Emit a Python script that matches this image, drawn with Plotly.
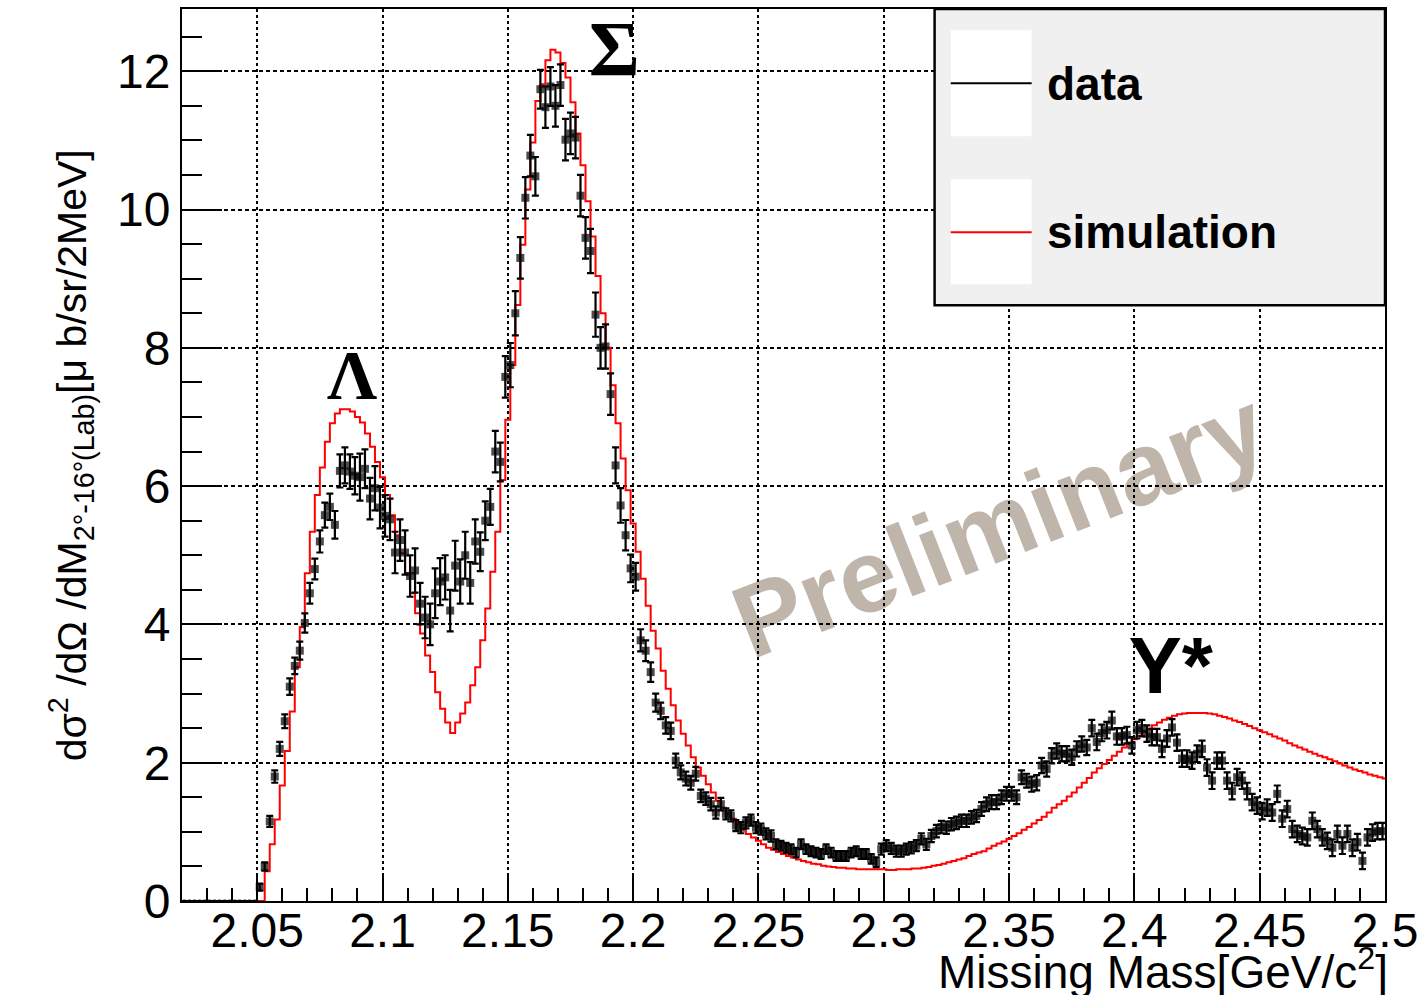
import plotly.graph_objects as go

# ---------------------------------------------------------------------------
# Missing-mass spectrum, 2 MeV bins
# ---------------------------------------------------------------------------
BIN_WIDTH = 0.002  # GeV

# measured cross section, first bin centre at 2.021 GeV
data_first_center = 2.021
data_values = [0.0] * 15 + [
    0.2, 0.5, 1.15, 1.8, 2.2, 2.6, 3.1, 3.4, 3.62, 4.02,
    4.45, 4.8, 5.2, 5.58, 5.7, 5.44, 6.22, 6.3, 6.21, 6.15,
    6.13, 6.25, 5.82, 5.97, 5.69, 5.57, 5.52, 5.04, 5.22, 5.04,
    4.7, 4.78, 4.3, 4.1, 4.0, 4.45, 4.62, 4.68, 4.2, 4.85,
    4.62, 5.0, 4.6, 5.2, 5.05, 5.5, 5.7, 6.5, 6.35, 7.58,
    7.75, 8.5, 9.3, 10.17, 10.78, 10.48, 11.74, 11.48, 11.78, 11.5,
    11.8, 11.01, 11.1, 11.04, 10.2, 9.59, 9.4, 8.48, 8.0, 8.02,
    7.33, 6.3, 5.72, 5.29, 4.81, 4.69, 3.77, 3.62, 3.31, 2.87,
    2.75, 2.54, 2.46, 2.03, 1.86, 1.77, 1.71, 1.84, 1.52, 1.48,
    1.4, 1.28, 1.4, 1.26, 1.23, 1.09, 1.06, 1.13, 1.17, 1.06,
    1.04, 0.97, 0.94, 0.82, 0.8, 0.77, 0.75, 0.7, 0.82, 0.75,
    0.72, 0.7, 0.68, 0.75, 0.7, 0.65, 0.65, 0.65, 0.7, 0.72,
    0.68, 0.68, 0.61, 0.56, 0.75, 0.8, 0.76, 0.72, 0.72, 0.75,
    0.77, 0.8, 0.9, 0.82, 0.94, 1.01, 1.07, 1.06, 1.11, 1.13,
    1.16, 1.16, 1.21, 1.23, 1.33, 1.4, 1.43, 1.43, 1.5, 1.55,
    1.55, 1.5, 1.79, 1.74, 1.69, 1.71, 1.96, 1.91, 2.1, 2.17,
    2.13, 2.13, 2.08, 2.2, 2.27, 2.22, 2.5, 2.3, 2.43, 2.47,
    2.61, 2.38, 2.38, 2.4, 2.25, 2.47, 2.5, 2.42, 2.37, 2.37,
    2.2, 2.35, 2.51, 2.29, 2.06, 2.06, 2.03, 2.13, 2.2, 1.93,
    1.74, 2.03, 2.03, 1.74, 1.59, 1.79, 1.74, 1.59, 1.43, 1.38,
    1.3, 1.35, 1.28, 1.55, 1.19, 1.33, 1.04, 0.97, 0.94, 0.92,
    1.16, 1.04, 0.92, 0.87, 0.77, 0.97, 0.8, 0.97, 0.77, 0.85,
    0.58, 0.92, 0.99, 1.01, 1.01,
]
data_errors = [0.0] * 15 + [
    0.05, 0.06, 0.08, 0.09, 0.1, 0.1, 0.12, 0.12, 0.13, 0.14,
    0.15, 0.15, 0.16, 0.18, 0.19, 0.2, 0.24, 0.26, 0.25, 0.27,
    0.34, 0.28, 0.3, 0.32, 0.3, 0.3, 0.3, 0.3, 0.3, 0.32,
    0.3, 0.32, 0.3, 0.3, 0.3, 0.36, 0.34, 0.32, 0.3, 0.36,
    0.32, 0.34, 0.3, 0.32, 0.28, 0.28, 0.26, 0.3, 0.28, 0.3,
    0.32, 0.32, 0.3, 0.3, 0.3, 0.28, 0.28, 0.3, 0.28, 0.3,
    0.3, 0.3, 0.3, 0.3, 0.3, 0.3, 0.32, 0.32, 0.3, 0.32,
    0.3, 0.26, 0.25, 0.22, 0.2, 0.2, 0.16, 0.15, 0.14, 0.13,
    0.12, 0.12, 0.12, 0.1, 0.1, 0.1, 0.1, 0.1, 0.09, 0.09,
    0.09, 0.09, 0.09, 0.08, 0.08, 0.08, 0.08, 0.08, 0.08, 0.08,
    0.08, 0.08, 0.08, 0.07, 0.07, 0.07, 0.07, 0.07, 0.07, 0.07,
    0.07, 0.07, 0.07, 0.07, 0.07, 0.07, 0.07, 0.07, 0.07, 0.07,
    0.07, 0.07, 0.07, 0.07, 0.08, 0.08, 0.08, 0.08, 0.08, 0.08,
    0.08, 0.08, 0.08, 0.08, 0.09, 0.09, 0.09, 0.09, 0.09, 0.09,
    0.09, 0.09, 0.09, 0.09, 0.1, 0.1, 0.1, 0.1, 0.1, 0.1,
    0.1, 0.1, 0.1, 0.1, 0.11, 0.11, 0.11, 0.11, 0.11, 0.11,
    0.11, 0.11, 0.11, 0.11, 0.11, 0.11, 0.12, 0.12, 0.12, 0.12,
    0.13, 0.12, 0.12, 0.12, 0.12, 0.12, 0.12, 0.12, 0.12, 0.12,
    0.12, 0.12, 0.12, 0.12, 0.12, 0.12, 0.12, 0.12, 0.12, 0.12,
    0.12, 0.12, 0.12, 0.12, 0.12, 0.12, 0.12, 0.12, 0.12, 0.12,
    0.12, 0.12, 0.12, 0.12, 0.12, 0.12, 0.12, 0.12, 0.12, 0.12,
    0.12, 0.12, 0.12, 0.12, 0.12, 0.12, 0.12, 0.12, 0.12, 0.12,
    0.12, 0.12, 0.12, 0.12, 0.12,
]

# simulated spectrum, first bin lower edge at 2.021 GeV
sim_first_edge = 2.021
sim_values = [0.0] * 16 + [
    0.43, 0.82, 1.18, 1.67, 2.17, 2.74, 3.38, 3.96, 4.74, 5.34,
    5.87, 6.27, 6.64, 6.91, 7.05, 7.11, 7.11, 7.08, 7.0, 6.92,
    6.76, 6.57, 6.35, 6.13, 5.87, 5.58, 5.29, 5.03, 4.74, 4.45,
    4.16, 3.87, 3.55, 3.31, 3.02, 2.78, 2.58, 2.43, 2.58, 2.71,
    2.87, 3.12, 3.38, 3.77, 4.23, 4.76, 5.34, 6.09, 6.96, 7.75,
    8.62, 9.49, 10.29, 10.97, 11.57, 11.81, 12.16, 12.31, 12.27, 12.12,
    11.91, 11.55, 11.1, 10.64, 10.12, 9.61, 9.04, 8.5, 8.0, 7.46,
    6.91, 6.4, 5.94, 5.46, 5.05, 4.66, 4.27, 3.91, 3.65, 3.33,
    3.07, 2.83, 2.61, 2.42, 2.25, 2.08, 1.93, 1.81, 1.69, 1.57,
    1.45, 1.35, 1.26, 1.19, 1.11, 1.04, 0.97, 0.92, 0.87, 0.82,
    0.77, 0.74, 0.71, 0.68, 0.65, 0.63, 0.6, 0.58, 0.56, 0.54,
    0.53, 0.51, 0.5, 0.49, 0.48, 0.48, 0.47, 0.47, 0.46, 0.46,
    0.46, 0.46, 0.46, 0.46, 0.45, 0.45, 0.46, 0.46, 0.46, 0.47,
    0.47, 0.48, 0.49, 0.51, 0.52, 0.54, 0.56, 0.58, 0.6, 0.62,
    0.65, 0.68, 0.7, 0.72, 0.76, 0.8, 0.83, 0.86, 0.9, 0.94,
    0.98, 1.03, 1.07, 1.12, 1.17, 1.22, 1.28, 1.35, 1.4, 1.45,
    1.51, 1.57, 1.64, 1.71, 1.78, 1.86, 1.92, 1.98, 2.04, 2.1,
    2.16, 2.22, 2.28, 2.34, 2.39, 2.44, 2.49, 2.54, 2.58, 2.62,
    2.65, 2.68, 2.7, 2.71, 2.72, 2.72, 2.72, 2.72, 2.71, 2.7,
    2.68, 2.66, 2.64, 2.61, 2.59, 2.56, 2.53, 2.5, 2.47, 2.44,
    2.41, 2.38, 2.35, 2.32, 2.28, 2.25, 2.22, 2.19, 2.16, 2.13,
    2.1, 2.08, 2.05, 2.02, 1.99, 1.96, 1.93, 1.9, 1.88, 1.86,
    1.83, 1.81, 1.79, 1.77,
]

x_tick_values = [2.05, 2.1, 2.15, 2.2, 2.25, 2.3, 2.35, 2.4, 2.45, 2.5]
x_tick_labels = ["2.05", "2.1", "2.15", "2.2", "2.25", "2.3", "2.35", "2.4", "2.45", "2.5"]
y_tick_values = [0, 2, 4, 6, 8, 10, 12]

# peak labels: (text, x, y, font family, size, weight)
peak_labels = [
    ("Λ", 2.0879, 7.72, "Liberation Serif", 70, "bold"),
    ("Σ", 2.1925, 12.45, "Liberation Serif", 78, "bold"),
    ("Y*", 2.4145, 3.52, "Liberation Sans", 80, "bold"),
]

SANS = "Liberation Sans"

fig = go.Figure()

# simulation histogram drawn as a step line over bin edges
sim_edges = [sim_first_edge + BIN_WIDTH * k for k in range(len(sim_values) + 1)]
fig.add_trace(go.Scatter(
    x=sim_edges,
    y=sim_values + [sim_values[-1]],
    mode="lines",
    line=dict(color="#ff0000", width=2, shape="hv"),
    name="simulation",
    showlegend=False,
    hoverinfo="skip",
))

# data points with statistical error bars
data_x = [data_first_center + BIN_WIDTH * i for i in range(len(data_values))]
marker_sizes = [3 if v == 0 else 8 for v in data_values]
fig.add_trace(go.Scatter(
    x=data_x,
    y=data_values,
    mode="markers",
    marker=dict(symbol="square", size=marker_sizes, color="black", line=dict(width=0)),
    error_y=dict(type="data", array=data_errors, color="black", thickness=2.2, width=3.5),
    name="data",
    showlegend=False,
))

grid_common = dict(showgrid=True, gridcolor="black", gridwidth=1.6, zeroline=False,
                   showline=True, linecolor="black", linewidth=2, mirror=True,
                   ticks="inside", tickcolor="black", tickwidth=2, automargin=False,
                   tickfont=dict(family=SANS, size=48, color="black"))

fig.update_xaxes(
    range=[2.02, 2.5],
    tickvals=x_tick_values,
    ticktext=x_tick_labels,
    ticklen=27,
    ticklabelstandoff=-14,
    griddash="3px,3px",
    minor=dict(dtick=0.01, tick0=2.0, ticklen=13, tickwidth=2, tickcolor="black",
               ticks="inside", showgrid=False),
    **grid_common,
)
fig.update_yaxes(
    range=[0, 12.9],
    tickvals=y_tick_values,
    ticklen=40,
    griddash="4px,3px",
    minor=dict(dtick=0.5, tick0=0, ticklen=20, tickwidth=2, tickcolor="black",
               ticks="inside", showgrid=False),
    **grid_common,
)

shapes = []
# "Preliminary" watermark and peak names sit beneath the grid
shapes.append(dict(
    type="rect", xref="x", yref="y", layer="below",
    x0=2.3346, x1=2.3546, y0=5.485, y1=5.685,
    line=dict(width=0), fillcolor="rgba(0,0,0,0)",
    label=dict(text="Preliminary", textangle=-21.5, textposition="middle center",
               font=dict(family=SANS, size=103, color="#c0b5aa", weight="bold")),
))
for text, px, py, fam, size, weight in peak_labels:
    shapes.append(dict(
        type="rect", xref="x", yref="y", layer="below",
        x0=px - 0.005, x1=px + 0.005, y0=py - 0.1, y1=py + 0.1,
        line=dict(width=0), fillcolor="rgba(0,0,0,0)",
        label=dict(text=text, textposition="middle center",
                   font=dict(family=fam, size=size, color="black", weight=weight)),
    ))

# legend box
shapes.append(dict(type="rect", xref="paper", yref="paper", layer="above",
                   x0=0.6256, x1=1.0, y0=0.6678, y1=1.0,
                   fillcolor="#f0f0f0", line=dict(color="black", width=2.5)))
for y0, y1 in [(0.8574, 0.9761), (0.6914, 0.8091)]:
    shapes.append(dict(type="rect", xref="paper", yref="paper", layer="above",
                       x0=0.639, x1=0.7063, y0=y0, y1=y1,
                       fillcolor="white", line=dict(width=0)))
shapes.append(dict(type="line", xref="paper", yref="paper", layer="above",
                   x0=0.639, x1=0.7063, y0=0.9167, y1=0.9167,
                   line=dict(color="black", width=2)))
shapes.append(dict(type="line", xref="paper", yref="paper", layer="above",
                   x0=0.639, x1=0.7063, y0=0.7497, y1=0.7497,
                   line=dict(color="#ff0000", width=2)))

annotations = [
    dict(text="data", xref="paper", yref="paper", x=0.7172, y=0.9156,
         xanchor="left", yanchor="middle", showarrow=False,
         font=dict(family=SANS, size=46, color="black", weight="bold")),
    dict(text="simulation", xref="paper", yref="paper", x=0.7172, y=0.7497,
         xanchor="left", yanchor="middle", showarrow=False,
         font=dict(family=SANS, size=46, color="black", weight="bold")),
    # axis titles
    dict(text="dσ<sup>2</sup> /dΩ /dM<sub>2°-16°(Lab)</sub>[μ b/sr/2MeV]",
         xref="paper", yref="paper", x=-0.092, y=0.5, textangle=-90,
         xanchor="center", yanchor="middle", showarrow=False,
         font=dict(family=SANS, size=41, color="black")),
    dict(text="Missing Mass[GeV/c<sup>2</sup>]",
         xref="paper", yref="paper", x=1.004, y=-0.076,
         xanchor="right", yanchor="middle", showarrow=False,
         font=dict(family=SANS, size=46, color="black")),
]

fig.update_layout(
    width=1420, height=995,
    margin=dict(l=182, r=35, t=9, b=94, autoexpand=False),
    paper_bgcolor="white", plot_bgcolor="white",
    shapes=shapes, annotations=annotations,
    showlegend=False,
)

fig.write_html("out.html")
